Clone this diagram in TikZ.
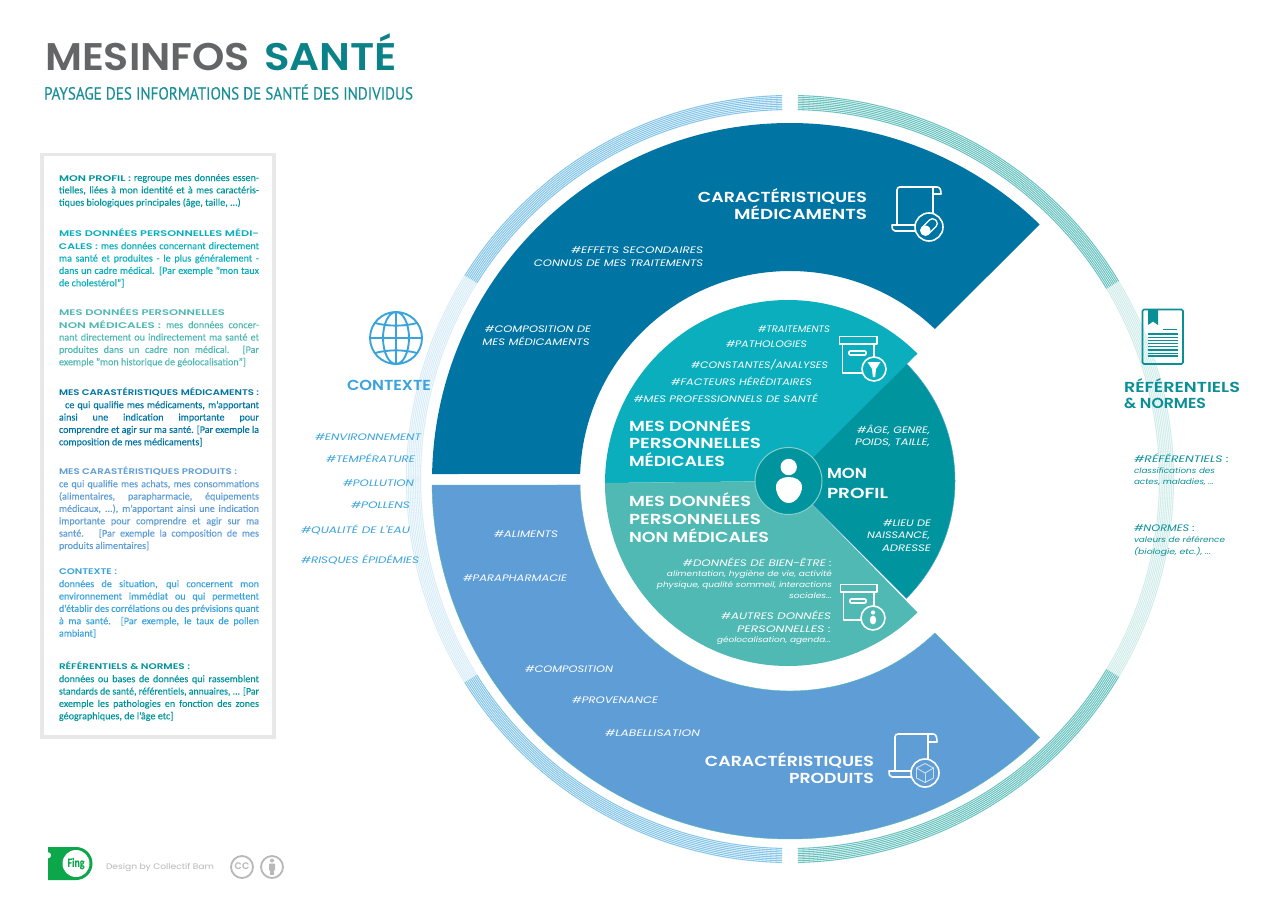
\documentclass[tikz,border=0pt]{standalone}
\usepackage{graphicx}
\usepackage{fontspec}
\setmainfont{Carlito}[FakeBold=0.12]
\newfontfamily\pop{Poppins}[BoldFont={Poppins SemiBold}]
\newfontfamily\subfont{PT Sans}[FakeBold=0.15]
\definecolor{cMed}{HTML}{0075A3}
\definecolor{cProd}{HTML}{5F9DD6}
\definecolor{cTeal}{HTML}{0AAEBD}
\definecolor{cGreen}{HTML}{50B9B4}
\definecolor{cProf}{HTML}{00959E}
\definecolor{cCtx}{HTML}{3AA3DC}
\definecolor{cRef}{HTML}{0A8F96}
\definecolor{cTitle}{HTML}{646566}
\definecolor{cTitleB}{HTML}{0A8288}
\definecolor{cSub}{HTML}{1A8F98}
\definecolor{cGrey}{HTML}{B8B8B8}
\definecolor{cFing}{HTML}{0BA74A}
\definecolor{cBorder}{HTML}{E8E8E8}
\tikzset{
  txt/.style={inner sep=0pt,outer sep=0pt,text=white},
  lab/.style={font=\pop\itshape\fontsize{9.4}{11}\selectfont,yshift=-3.4pt},
  labsm/.style={font=\pop\itshape\fontsize{7.6}{9}\selectfont,yshift=-2.8pt},
  head/.style={font=\pop\bfseries\fontsize{14.5}{16}\selectfont,yshift=-5.2pt},
  ttl/.style={font=\pop\bfseries\fontsize{38.5}{40}\selectfont,yshift=-13.5pt},
  subt/.style={font=\subfont\fontsize{17.5}{19}\selectfont,text=cSub,yshift=-5.5pt},
  para/.style={inner sep=0pt,outer sep=0pt,anchor=north west,align=left,font=\fontsize{10.1}{12.35}\selectfont},
  ico/.style={draw=white,line width=1.6pt,line join=round,line cap=round},
  ringdense/.style={line width=1.05pt},
}
\newsavebox{\jlbox}
\newcommand{\TX}[7]{\node[txt,anchor=base #2,#6] (#1) at (#3,#4) {\resizebox{#5pt}{\height}{#7}};}
\newcommand{\JL}[1]{\sbox{\jlbox}{#1}\ifdim\wd\jlbox>200pt\resizebox{200pt}{\height}{\usebox{\jlbox}}\else\makebox[200pt][s]{#1}\fi}
\newcommand{\hd}[2]{\resizebox{#1pt}{\height}{\pop\bfseries\fontsize{8.2}{10}\selectfont #2}}
\newcommand{\RingArc}[3]{\foreach \rr in {369.5,371.25,...,383.6}{\draw[draw=#1,ringdense] (790,479) ++(#2:\rr) arc[start angle=#2,end angle=#3,radius=\rr];}}
\begin{document}
\begin{tikzpicture}[x=1pt,y=-1pt]
\useasboundingbox (0,0) rectangle (1280,905);
\fill[white] (0,0) rectangle (1280,905);
\coordinate (C) at (790,481);
\coordinate (D) at (788,483);
\coordinate (H) at (789,481);
% outer rings
\RingArc{cCtx!62}{-91.2}{-148}
\RingArc{cCtx!20}{-148}{-212}
\RingArc{cCtx!62}{-212}{-268.8}
\RingArc{cGreen!85}{-88.8}{-31}
\RingArc{cGreen!26}{-31}{31}
\RingArc{cGreen!85}{31}{88.8}
% bands
\fill[cMed] ([shift={(-178.88:358)}]C) arc[start angle=-178.88,end angle=-45.79,radius=358]
  -- ([shift={(-46.36:210)}]C) arc[start angle=-46.36,end angle=-178.07,radius=210] -- cycle;
\filldraw[fill=cProd,draw=cGreen,line width=.4pt] ([shift={(179.36:358)}]C) arc[start angle=179.36,end angle=45.79,radius=358]
  -- ([shift={(46.36:210)}]C) arc[start angle=46.36,end angle=178.91,radius=210] -- cycle;
% inner disc
\filldraw[fill=cProf,draw=cProd!70!cTeal,line width=.5pt] (H) -- ([shift={(-45:166)}]H) arc[start angle=-45,end angle=45,radius=166] -- cycle;
\fill[cTeal] (H) -- ([shift={(-180:183)}]D) arc[start angle=-180,end angle=-45,radius=183] -- cycle;
\fill[cGreen] (H) -- ([shift={(180:183)}]D) arc[start angle=180,end angle=45,radius=183] -- cycle;
\filldraw[fill=cProf,draw=cGreen!70!white,line width=1pt] (788.5,481) circle[radius=33.5];
% central person
\fill[white] (788.7,467) circle[radius=8.2];
\fill[white] (788.7,503) .. controls (781,503) and (776,494) .. (776,487) .. controls (776,480) and (782,477) .. (788.7,477) .. controls (795,477) and (802,480) .. (802,487) .. controls (802,494) and (796,503) .. (788.7,503) -- cycle;
% title
\TX{t1}{west}{45}{57}{205}{ttl,text=cTitle}{MESINFOS}
\TX{t2}{west}{264}{57}{133}{ttl,text=cTitleB}{SANTÉ}
\TX{t3}{west}{44}{94}{369}{subt}{PAYSAGE DES INFORMATIONS DE SANTÉ DES INDIVIDUS}
% side panel
\draw[cBorder,line width=3.5pt] (42,154.5) rectangle (274,737);
\node[para,text=cProf] (p1) at (59,174) {\JL{\hd{72}{MON PROFIL :} regroupe mes données essen-}\\\JL{tielles, liées à mon identité et à mes caractéris-}\\tiques biologiques principales (âge, taille, ...)};
\node[para,text=cTeal] (p2) at (59,229) {\hd{200}{MES DONNÉES PERSONNELLES MÉDI-}\\\JL{\hd{39}{CALES :} mes données concernant directement}\\\JL{ma santé et produites - le plus généralement -}\\\JL{dans un cadre médical. [Par exemple "mon taux}\\de cholestérol"]};
\node[para,text=cGreen] (p3) at (59,308) {\hd{166}{MES DONNÉES PERSONNELLES}\\\JL{\hd{102}{NON MÉDICALES :} mes données concer-}\\\JL{nant directement ou indirectement ma santé et}\\\JL{produites dans un cadre non médical. [Par}\\exemple "mon historique de géolocalisation"]};
\node[para,text=cMed] (p4) at (59,388) {\hd{200}{MES CARASTÉRISTIQUES MÉDICAMENTS :}\\\JL{\ \ ce qui qualifie mes médicaments, m'apportant}\\\JL{ainsi une indication importante pour}\\\JL{comprendre et agir sur ma santé. [Par exemple la}\\composition de mes médicaments]};
\node[para,text=cProd] (p5) at (59,467) {\hd{178}{MES CARASTÉRISTIQUES PRODUITS :}\\\JL{ce qui qualifie mes achats, mes consommations}\\\JL{(alimentaires, parapharmacie, équipements}\\\JL{médicaux, ...), m'apportant ainsi une indication}\\\JL{importante pour comprendre et agir sur ma}\\\JL{santé. \ [Par exemple la composition de mes}\\produits alimentaires]};
\node[para,text=cCtx] (p6) at (59,569) {\hd{58}{CONTEXTE :}\\\JL{données de situation, qui concernent mon}\\\JL{environnement immédiat ou qui permettent}\\\JL{d'établir des corrélations ou des prévisions quant}\\\JL{à ma santé. [Par exemple, le taux de pollen}\\ambiant]};
\node[para,text=cProf] (p7) at (59,662) {\hd{131}{RÉFÉRENTIELS \& NORMES :}\\\JL{données ou bases de données qui rassemblent}\\\JL{standards de santé, référentiels, annuaires, ... [Par}\\\JL{exemple les pathologies en fonction des zones}\\géographiques, de l'âge etc]};
% medicaments band texts
\TX{m1}{east}{867}{197}{169}{head}{CARACTÉRISTIQUES}
\TX{m2}{east}{867}{214}{133}{head}{MÉDICAMENTS}
\TX{m3}{east}{703}{250}{132}{lab}{\#EFFETS SECONDAIRES}
\TX{m4}{east}{703}{263}{169}{lab}{CONNUS DE MES TRAITEMENTS}
\TX{m5}{east}{591}{329.5}{106}{lab}{\#COMPOSITION DE}
\TX{m6}{east}{589.5}{342}{107}{lab}{MES MÉDICAMENTS}
% produits band texts
\TX{pr1}{west}{494}{534}{64}{lab}{\#ALIMENTS}
\TX{pr2}{west}{463}{578}{104}{lab}{\#PARAPHARMACIE}
\TX{pr3}{west}{525}{669}{88}{lab}{\#COMPOSITION}
\TX{pr4}{west}{572}{700}{86}{lab}{\#PROVENANCE}
\TX{pr5}{west}{605}{733}{95}{lab}{\#LABELLISATION}
\TX{pr6}{east}{874}{761}{169}{head}{CARACTÉRISTIQUES}
\TX{pr7}{east}{874}{778}{85}{head}{PRODUITS}
% teal
\TX{a1}{east}{830}{329}{72}{lab}{\#TRAITEMENTS}
\TX{a2}{east}{807}{344.5}{81}{lab}{\#PATHOLOGIES}
\TX{a3}{east}{828}{365}{137}{lab}{\#CONSTANTES/ANALYSES}
\TX{a4}{east}{812}{382}{141}{lab}{\#FACTEURS HÉRÉDITAIRES}
\TX{a5}{east}{818}{399}{184}{lab}{\#MES PROFESSIONNELS DE SANTÉ}
\TX{a6}{west}{629}{426}{122}{head}{MES DONNÉES}
\TX{a7}{west}{629}{443}{132}{head}{PERSONNELLES}
\TX{a8}{west}{629}{461}{96}{head}{MÉDICALES}
% profil
\TX{b1}{east}{930}{430}{73}{lab}{\#ÂGE, GENRE,}
\TX{b2}{east}{930}{442}{75}{lab}{POIDS, TAILLE,}
\TX{b3}{west}{827}{473}{40}{head}{MON}
\TX{b4}{west}{827}{493}{61}{head}{PROFIL}
\TX{b5}{east}{931}{523}{48}{lab}{\#LIEU DE}
\TX{b6}{east}{930}{535.5}{63}{lab}{NAISSANCE,}
\TX{b7}{east}{931}{548}{49}{lab}{ADRESSE}
% green
\TX{c1}{west}{629}{501}{122}{head}{MES DONNÉES}
\TX{c2}{west}{629}{519}{132}{head}{PERSONNELLES}
\TX{c3}{west}{629}{537}{140}{head}{NON MÉDICALES}
\TX{c4}{east}{832}{563}{149}{lab}{\#DONNÉES DE BIEN-ÊTRE :}
\TX{c5}{east}{832}{574}{165}{labsm}{alimentation, hygiène de vie, activité}
\TX{c6}{east}{832}{585}{175}{labsm}{physique, qualité sommeil, interactions}
\TX{c7}{east}{832}{595.5}{43}{labsm}{sociales...}
\TX{c8}{east}{831}{616}{110}{lab}{\#AUTRES DONNÉES}
\TX{c9}{east}{831}{629}{94}{lab}{PERSONNELLES :}
\TX{c10}{east}{831}{640}{114}{labsm}{géolocalisation, agenda...}
% contexte
\TX{x1}{west}{347}{385}{84}{head,text=cCtx}{CONTEXTE}
\TX{x2}{west}{315}{437}{106}{lab,text=cCtx}{\#ENVIRONNEMENT}
\TX{x3}{west}{326}{459}{89}{lab,text=cCtx}{\#TEMPÉRATURE}
\TX{x4}{west}{343}{483}{71}{lab,text=cCtx}{\#POLLUTION}
\TX{x5}{west}{351}{505}{59}{lab,text=cCtx}{\#POLLENS}
\TX{x6}{west}{301}{530}{109}{lab,text=cCtx}{\#QUALITÉ DE L'EAU}
\TX{x7}{west}{301}{560}{118}{lab,text=cCtx}{\#RISQUES ÉPIDÉMIES}
% referentiels
\TX{r1}{west}{1124}{387}{116}{head,text=cRef}{RÉFÉRENTIELS}
\TX{r2}{west}{1124}{403}{82}{head,text=cRef}{\& NORMES}
\TX{r3}{west}{1134}{459}{95}{lab,text=cRef}{\#RÉFÉRENTIELS :}
\TX{r4}{west}{1134}{471}{81}{labsm,text=cRef}{classifications des}
\TX{r5}{west}{1134}{481.5}{80}{labsm,text=cRef}{actes, maladies, ...}
\TX{r6}{west}{1134}{528}{61}{lab,text=cRef}{\#NORMES :}
\TX{r7}{west}{1134}{540}{91}{labsm,text=cRef}{valeurs de référence}
\TX{r8}{west}{1134}{552}{77}{labsm,text=cRef}{(biologie, etc.), ...}
% globe icon
\begin{scope}[shift={(396,338)},draw=cCtx,line width=1.9pt]
\draw (0,0) circle[radius=26];
\draw (-26,0) -- (26,0);
\draw (0,-26) -- (0,26);
\draw (0,0) ellipse[x radius=13,y radius=26];
\draw (-21,-15) .. controls (-8,-11.5) and (8,-11.5) .. (21,-15);
\draw (-21,15) .. controls (-8,11.5) and (8,11.5) .. (21,15);
\end{scope}
% book icon
\draw[cRef,line width=1.6pt,rounded corners=1.5pt] (1142.5,309.5) rectangle (1183,364);
\fill[cRef] (1148,310) -- (1158,310) -- (1158,325) -- (1153,321.5) -- (1148,325) -- cycle;
\draw[cRef,line width=1pt] (1163,329) -- (1177,329);
\foreach \yy in {334,337.2,340.4,343.6,346.8,350,353.2,356}{\draw[cRef,line width=1.2pt] (1148,\yy) -- (1178,\yy);}
% box icon upper
\begin{scope}[ico]
\draw (839.5,336.5) rectangle (877,344);
\draw (842.5,344) -- (842.5,373) -- (865,373);
\draw (874,344) -- (874,358);
\draw[rounded corners=1pt] (849,351) rectangle (866,355);
\filldraw[fill=cTeal] (874,369) circle[radius=12];
\end{scope}
\fill[white] (867.5,362) -- (880.5,362) -- (876,369) -- (875.2,377) -- (872.8,377) -- (872,369) -- cycle;
% box icon lower
\begin{scope}[ico]
\draw (840.5,584.5) rectangle (877,592);
\draw (843.5,592) -- (843.5,620) -- (861,620);
\draw (874,592) -- (874,606);
\draw[rounded corners=1pt] (850,599) rectangle (866,603);
\filldraw[fill=cGreen] (873,618) circle[radius=12];
\end{scope}
\fill[white] (873,612.5) circle[radius=2.1];
\fill[white] (873,620) ellipse[x radius=3.2,y radius=4.4];
% scroll icon upper
\begin{scope}[ico]
\draw (919,231) -- (895,231) .. controls (892,231) and (892,228) .. (892,225) -- (919,225);
\draw (897,225) -- (897,190) .. controls (897,188) and (898,187) .. (900,187) -- (937,187) .. controls (940,187) and (941,190) .. (941,194) -- (933,194);
\draw (933,188) -- (933,216);
\filldraw[fill=cMed] (929,227) circle[radius=14];
\end{scope}
\begin{scope}[shift={(929,227)},rotate=45]
\filldraw[draw=white,fill=cMed,line width=1.3pt,rounded corners=4pt] (-9.5,-4.6) rectangle (9.5,4.6);
\fill[white,rounded corners=4pt] (-9.5,-4.6) -- (0,-4.6) -- (0,4.6) -- (-9.5,4.6) -- cycle;
\end{scope}
% scroll icon lower
\begin{scope}[ico]
\draw (915,777) -- (892,777) .. controls (889,777) and (889,774) .. (889,771) -- (915,771);
\draw (895,771) -- (895,737) .. controls (895,735) and (896,734) .. (898,734) -- (933,734) .. controls (936,734) and (937,737) .. (937,742) -- (928,742);
\draw (928,735) -- (928,762);
\filldraw[fill=cProd] (925,773) circle[radius=14];
\end{scope}
\begin{scope}[shift={(925,773)},draw=white!70!cProd,line width=.9pt,line join=round]
\draw (0,-9.5) -- (8.5,-5) -- (8.5,5) -- (0,9.5) -- (-8.5,5) -- (-8.5,-5) -- cycle;
\draw (-8.5,-5) -- (0,0) -- (8.5,-5);
\draw (0,0) -- (0,9.5);
\end{scope}
% fing logo
\fill[cFing] (48,847) -- (76,847) arc[start angle=-90,end angle=90,radius=16.5] -- (48,880) -- (48,858.5) arc[start angle=90,end angle=-90,radius=3.2] -- cycle;
\fill[white] (76,863.5) circle[radius=13.5];
\node[inner sep=0pt,text=cFing,font=\bfseries\fontsize{13}{14}\selectfont] (fing) at (76,863.5) {\resizebox{17pt}{\height}{Fing}};
\TX{d1}{west}{106}{867}{108}{font=\pop\fontsize{8}{9}\selectfont,text=cGrey,yshift=-2.8pt}{Design by Collectif Bam}
\draw[cGrey,line width=1.8pt] (242,867) circle[radius=11];
\node[inner sep=0pt,text=cGrey,font=\pop\bfseries\fontsize{9.5}{10}\selectfont] (cc) at (242,866.5) {CC};
\draw[cGrey,line width=1.8pt] (272,867) circle[radius=11];
\fill[cGrey] (272,860.5) circle[radius=2];
\fill[cGrey,rounded corners=.6pt] (269,863.5) rectangle (275,870.5);
\fill[cGrey] (270,870) rectangle (274,875);
\end{tikzpicture}
\end{document}
